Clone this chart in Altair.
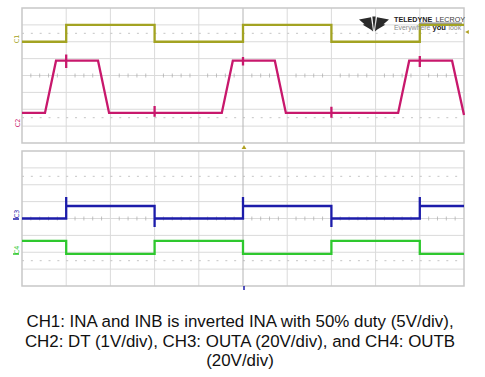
import altair as alt
import pandas as pd

# ---------------- data (time in divisions 0..10, amplitude in divisions) -------------
ch1_t = [0, 1, 1, 3, 3, 5, 5, 7, 7, 9, 9, 10]
ch1_v = [2.0, 2.0, 3.0, 3.0, 2.0, 2.0, 3.0, 3.0, 2.0, 2.0, 3.0, 3.0]

ch2_t = [0, 0.52, 0.77, 1.0, 1.0, 1.0, 1.0, 1.72, 1.97, 3.0, 3.0, 3.0, 3.0,
         4.52, 4.77, 5.0, 5.0, 5.0, 5.0, 5.72, 5.97, 7.0, 7.0, 7.0, 7.0,
         8.51, 8.76, 9.0, 9.0, 9.0, 9.0, 9.73, 10.0]
ch2_v = [-2.22, -2.22, 0.88, 0.88, 1.25, 0.45, 0.88, 0.88, -2.22, -2.22, -1.8, -2.45, -2.22,
         -2.22, 0.88, 0.88, 1.1, 0.6, 0.88, 0.88, -2.22, -2.22, -1.85, -2.5, -2.22,
         -2.22, 0.88, 0.88, 1.15, 0.5, 0.88, 0.88, -2.34]

ch3_t = [0, 1, 1, 1, 3, 3, 3, 5, 5, 5, 7, 7, 7, 9, 9, 9, 10]
ch3_v = [0.0, 0.0, 1.27, 0.74, 0.74, -0.5, 0.0, 0.0, 1.27, 0.74, 0.74, -0.5, 0.0,
         0.0, 1.27, 0.74, 0.74]

ch4_t = [0, 1, 1, 3, 3, 5, 5, 7, 7, 9, 9, 10]
ch4_v = [-1.33, -1.33, -2.1, -2.1, -1.33, -1.33, -2.1, -2.1, -1.33, -1.33, -2.1, -2.1]

caption_lines = ["CH1: INA and INB is inverted INA with 50% duty (5V/div),",
                 "CH2: DT (1V/div), CH3: OUTA (20V/div), and CH4: OUTB",
                 "(20V/div)"]

# ---------------- layout helpers -------------
W, H = 442, 278
DIV_PX = 135 / 8.0
GAP = 8 / DIV_PX
OFF_TOP = 0.0
OFF_BOT = -(8 + GAP)
YMIN = OFF_BOT - 4

xs = alt.Scale(domain=[0, 10], nice=False, zero=False)
ys = alt.Scale(domain=[YMIN, 4], nice=False, zero=False)


def wave(t, v, off, name):
    return pd.DataFrame({"t": t, "v": [a + off for a in v], "i": range(len(t)), "ch": name})


waves = pd.concat([
    wave(ch1_t, ch1_v, OFF_TOP, "C1"),
    wave(ch2_t, ch2_v, OFF_TOP, "C2"),
    wave(ch3_t, ch3_v, OFF_BOT, "C3"),
    wave(ch4_t, ch4_v, OFF_BOT, "C4"),
])
colors = {"C1": "#a3a322", "C2": "#c8186c", "C3": "#1c1caa", "C4": "#2ec82e"}

panels = [OFF_TOP, OFF_BOT]
vgrid = pd.DataFrame([{"t": k, "y1": o - 4, "y2": o + 4} for o in panels for k in range(1, 10) if k != 5])
vcenter = pd.DataFrame([{"t": 5, "y1": o - 4, "y2": o + 4} for o in panels])
hgrid = pd.DataFrame([{"v": o + k, "t1": 0, "t2": 10} for o in panels for k in range(-3, 4)])
hdot = pd.DataFrame([{"v": o + k, "t1": 0, "t2": 10} for o in panels for k in (-2.5, 2.5)])
border = pd.DataFrame([{"t1": 0, "t2": 10, "y1": o - 4, "y2": o + 4} for o in panels])
cticks = pd.DataFrame([{"t": k / 5.0, "v": o} for o in panels for k in range(1, 50) if k % 5 != 0])

X = lambda f: alt.X(f, type="quantitative", scale=xs, axis=None)
Y = lambda f: alt.Y(f, type="quantitative", scale=ys, axis=None)

one = pd.DataFrame({"a": [0]})
layers = []
layers.append(alt.Chart(vgrid).mark_rule(color="#dadada", strokeWidth=1).encode(
    x=X("t"), y=Y("y1"), y2="y2"))
layers.append(alt.Chart(hgrid).mark_rule(color="#dadada", strokeWidth=1).encode(
    y=Y("v"), x=X("t1"), x2="t2"))
layers.append(alt.Chart(hdot).mark_rule(color="#c4c4c4", strokeWidth=1, strokeDash=[2, 6.84]).encode(
    y=Y("v"), x=X("t1"), x2="t2"))
layers.append(alt.Chart(vcenter).mark_rule(color="#b4b4b4", strokeWidth=1).encode(
    x=X("t"), y=Y("y1"), y2="y2"))
layers.append(alt.Chart(cticks).mark_tick(color="#a8a8a8", orient="vertical", size=4, thickness=1).encode(
    x=X("t"), y=Y("v")))
layers.append(alt.Chart(border).mark_rect(fill=None, stroke="#c8c8c8", strokeWidth=1.5).encode(
    x=X("t1"), x2="t2", y=Y("y1"), y2="y2"))

for ch, col in colors.items():
    layers.append(alt.Chart(waves[waves.ch == ch]).mark_line(
        color=col, strokeWidth=2.3, strokeJoin="miter", interpolate="linear").encode(
        x=X("t"), y=Y("v"), order="i:Q"))

# channel labels (small rotated tags on the left edge)
tags = [("C1", -5, 31, colors["C1"]), ("C2", -4, 115, colors["C2"]),
        ("C3", -5, 206, colors["C3"]), ("C4", -5, 242, colors["C4"])]
for txt, px, py, col in tags:
    layers.append(alt.Chart(one).mark_text(
        text=txt, color=col, fontSize=6.5, angle=270, font="DejaVu Sans",
        align="center", baseline="middle").encode(x=alt.value(px), y=alt.value(py)))
for px, py, col in [(-6, 211, colors["C3"]), (-6, 246, colors["C4"])]:
    layers.append(alt.Chart(one).mark_rule(color=col, strokeWidth=1.5).encode(
        x=alt.value(px - 3), x2=alt.value(px + 3), y=alt.value(py)))

# trigger markers
layers.append(alt.Chart(one).mark_point(
    shape="triangle-up", filled=True, color="#b0a020", size=22, opacity=1).encode(
    x=alt.value(222), y=alt.value(139)))
layers.append(alt.Chart(one).mark_point(
    shape="triangle-left", filled=True, color="#b0a020", size=18, opacity=1).encode(
    x=alt.value(445), y=alt.value(24)))
layers.append(alt.Chart(one).mark_rule(color=colors["C3"], strokeWidth=1.5).encode(
    x=alt.value(222), y=alt.value(278), y2=alt.value(282)))

# logo
logo_path = ("M-1,-0.3 L-0.2,-0.45 L-0.06,0.5 Z M1,-0.3 L0.2,-0.45 L0.06,0.5 Z "
             "M-0.11,-0.5 L0.11,-0.5 L0,0.5 Z M-0.75,0.05 L-0.28,-0.12 L-0.08,0.45 Z "
             "M0.75,0.05 L0.28,-0.12 L0.08,0.45 Z")
layers.append(alt.Chart(one).mark_point(
    shape=logo_path, filled=True, color="#2a2a2a", size=900, opacity=1, strokeWidth=0).encode(
    x=alt.value(352), y=alt.value(16)))
layers.append(alt.Chart(one).mark_text(
    text="TELEDYNE", color="#1e1e1e", fontSize=7.2, fontWeight="bold", font="Liberation Sans",
    align="left", baseline="alphabetic").encode(x=alt.value(372), y=alt.value(14.2)))
layers.append(alt.Chart(one).mark_text(
    text="LECROY", color="#3a3a3a", fontSize=7.2, font="Liberation Sans",
    align="left", baseline="alphabetic").encode(x=alt.value(413.5), y=alt.value(14.2)))
layers.append(alt.Chart(one).mark_rule(color="#3a3a3a", strokeWidth=0.7).encode(
    x=alt.value(397), x2=alt.value(440), y=alt.value(15.1)))
layers.append(alt.Chart(one).mark_text(
    text="Everywhere", color="#8a8a8a", fontSize=6.9, font="Liberation Sans",
    align="left", baseline="alphabetic").encode(x=alt.value(372), y=alt.value(21.8)))
layers.append(alt.Chart(one).mark_text(
    text="you", color="#1e1e1e", fontSize=7.6, fontWeight="bold", font="Liberation Sans",
    align="left", baseline="alphabetic").encode(x=alt.value(410.5), y=alt.value(21.8)))
layers.append(alt.Chart(one).mark_text(
    text="look", color="#8a8a8a", fontSize=6.9, font="Liberation Sans",
    align="left", baseline="alphabetic").encode(x=alt.value(426.5), y=alt.value(21.8)))

# caption
layers.append(alt.Chart(one).mark_text(
    text=caption_lines, color="#111111", fontSize=16.9, font="Liberation Sans",
    align="center", baseline="alphabetic", lineHeight=19.5).encode(
    x=alt.value(218), y=alt.value(319)))

chart = alt.layer(*layers).properties(
    width=W, height=H, autosize="none",
    padding={"left": 22, "top": 8, "right": 21, "bottom": 91},
    background="white",
).configure_view(strokeWidth=0)

chart.save("out.html", embed_options={"renderer": "svg", "actions": False})
